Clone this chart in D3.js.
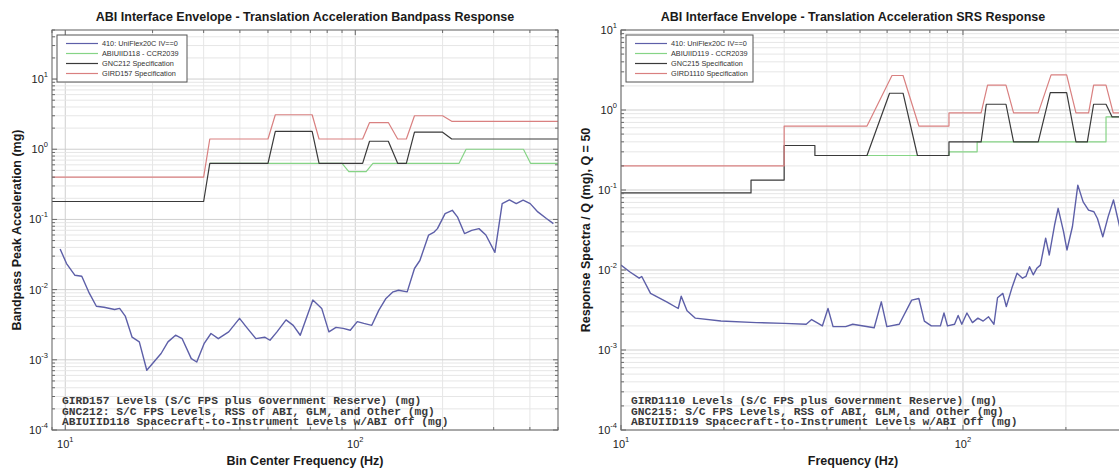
<!DOCTYPE html>
<html>
<head>
<meta charset="utf-8">
<script src="https://cdn.jsdelivr.net/npm/d3@7"></script>
<style>
  body { margin: 0; background: #fff; }
  svg { display: block; font-family: "Liberation Sans", Arial, sans-serif; }
</style>
</head>
<body>
<svg id="chart" width="1119" height="468"></svg>
<script>
// ---- left panel: bandpass response ----
var bpMeasFreq = [9.6, 10.1, 10.8, 11.4, 12.1, 12.8, 13.6, 14.8, 15.4, 16.1, 17.0, 18.0, 19.1, 20.2,
    21.4, 22.6, 24.0, 25.3, 27.2, 28.4, 30.1, 31.8, 33.7, 36.6, 39.9, 42.2, 45.4, 48.7, 50.8, 53.7,
    57.7, 61.1, 64.6, 71.4, 76.6, 81.1, 85.8, 90.8, 96.1, 101.6, 107, 114, 120.6, 127.6, 135, 141,
    151, 160, 167, 179, 187, 192, 204, 216, 225, 238, 252, 267, 282, 303, 321, 340, 359, 379, 401,
    426, 456, 482];
var bpMeasVal = [0.038, 0.0235, 0.016, 0.0155, 0.0089, 0.0058, 0.0056, 0.0052, 0.0054, 0.0042, 0.0021,
    0.0018, 0.00071, 0.00093, 0.00123, 0.0018, 0.00224, 0.002, 0.00104, 0.00093, 0.0017, 0.00237,
    0.002, 0.0025, 0.0039, 0.0029, 0.002, 0.0021, 0.0019, 0.0025, 0.0037, 0.0031, 0.00224, 0.0071,
    0.0054, 0.0025, 0.0029, 0.0028, 0.00264, 0.0035, 0.0033, 0.0031, 0.0051, 0.0075, 0.0093, 0.0098,
    0.0093, 0.02, 0.026, 0.06, 0.066, 0.074, 0.121, 0.135, 0.109, 0.063, 0.07, 0.074, 0.06, 0.034,
    0.168, 0.19, 0.168, 0.188, 0.168, 0.128, 0.103, 0.087];

var bpSpecFreq = [9, 30, 31.5, 50, 53, 71, 75, 106, 112, 130, 140, 150, 160, 200, 215, 500];
var bpGirdVal  = [0.4, 0.4, 1.4, 1.4, 3.1, 3.1, 1.4, 1.4, 2.4, 2.4, 1.4, 1.4, 3.0, 3.0, 2.5, 2.5];
var bpGncVal   = [0.18, 0.18, 0.63, 0.63, 1.8, 1.8, 0.63, 0.63, 1.3, 1.3, 0.63, 0.63, 1.75, 1.75, 1.4, 1.4];

var bpAbiFreq = [31.5, 90, 95, 109, 115, 228, 241, 380, 402, 500];
var bpAbiVal  = [0.63, 0.63, 0.48, 0.48, 0.63, 0.63, 1.0, 1.0, 0.63, 0.63];

var bpLegend = ["410: UniFlex20C IV==0", "ABIUIID118 - CCR2039", "GNC212 Specification", "GIRD157 Specification"];
var bpNotes = ["GIRD157 Levels (S/C FPS plus Government Reserve) (mg)",
    "GNC212: S/C FPS Levels, RSS of ABI, GLM, and Other (mg)",
    "ABIUIID118 Spacecraft-to-Instrument Levels w/ABI Off (mg)"];

// ---- right panel: SRS response ----
var srsMeasFreq = [10.0, 10.6, 11.3, 11.5, 12.2, 13.6, 14.7, 15.0, 15.6, 16.5, 19.6, 24.9, 30, 34.8,
    36.1, 37.4, 38.8, 40.3, 41.7, 45.4, 47.6, 55.0, 57.7, 59.9, 65.1, 70.8, 74.3, 77.1, 80.8, 85.9,
    88.0, 90.1, 94.5, 96.8, 99.2, 102.7, 106.6, 110.6, 114.6, 118.8, 123.2, 126.2, 130.8, 133.9,
    138.9, 143.9, 149.3, 152.8, 156.6, 160.5, 164.4, 168.4, 174.5, 178.8, 185.3, 189.8, 196.9,
    201.4, 209, 216.7, 224.6, 232.9, 241.5, 247.3, 256.4, 265.8, 275.5, 285.8, 295];
var srsMeasVal = [0.0115, 0.0095, 0.0079, 0.0083, 0.0051, 0.004, 0.0033, 0.0047, 0.0031, 0.0025, 0.0023,
    0.0022, 0.00215, 0.0021, 0.0024, 0.0022, 0.002, 0.0033, 0.00196, 0.00196, 0.0021, 0.0019, 0.004,
    0.00196, 0.0021, 0.0042, 0.0044, 0.0023, 0.002, 0.002, 0.0029, 0.002, 0.0021, 0.0027, 0.0021,
    0.0029, 0.0022, 0.0025, 0.0023, 0.0026, 0.0021, 0.0045, 0.0051, 0.0035, 0.0059, 0.0091, 0.0079,
    0.0083, 0.011, 0.0087, 0.0105, 0.0115, 0.025, 0.0154, 0.0365, 0.059, 0.03, 0.0178, 0.035, 0.115,
    0.071, 0.056, 0.0535, 0.044, 0.026, 0.0465, 0.075, 0.038, 0.02];

var srsGirdFreq = [10, 30, 30, 52.4, 62, 66.8, 74.3, 91, 91, 113, 118, 133.6, 140.6, 166, 181, 201,
    214, 233, 241, 262, 275, 500];
var srsGirdVal  = [0.2, 0.2, 0.63, 0.63, 2.7, 2.7, 0.63, 0.63, 0.92, 0.92, 2.05, 2.05, 0.92, 0.92, 2.75,
    2.75, 0.92, 0.92, 2.05, 2.05, 0.92, 0.92];

var srsGncFreq = [10, 24, 24, 30, 30, 36.9, 36.9, 52.4, 61, 66.8, 73.6, 91, 91, 113, 117, 133.6,
    140.6, 166, 180, 201, 214, 231, 241, 262, 273, 500];
var srsGncVal  = [0.092, 0.092, 0.133, 0.133, 0.36, 0.36, 0.27, 0.27, 1.62, 1.62, 0.27, 0.27, 0.4,
    0.4, 1.18, 1.18, 0.4, 0.4, 1.65, 1.65, 0.4, 0.4, 1.18, 1.18, 0.82, 0.82];

var srsAbiFreq = [36.9, 91, 91, 110, 110, 262, 262, 500];
var srsAbiVal  = [0.27, 0.27, 0.3, 0.3, 0.4, 0.4, 0.82, 0.82];

var srsLegend = ["410: UniFlex20C IV==0", "ABIUIID119 - CCR2039", "GNC215 Specification", "GIRD1110 Specification"];
var srsNotes = ["GIRD1110 Levels (S/C FPS plus Government Reserve) (mg)",
    "GNC215: S/C FPS Levels, RSS of ABI, GLM, and Other (mg)",
    "ABIUIID119 Spacecraft-to-Instrument Levels w/ABI Off (mg)"];

// colours: measured, ABI, GNC, GIRD
var colors = ["#5d5fa8", "#86d486", "#3a3a3a", "#d98080"];

var svg = d3.select("#chart");

function logSteps(domain) {
    var out = [];
    for (var e = -6; e <= 4; e++) {
        for (var m = 1; m <= 9; m++) {
            var v = m * Math.pow(10, e);
            if (v >= domain[0] * 0.9999 && v <= domain[1] * 1.0001) out.push(v);
        }
    }
    return out;
}
function isDecade(v) {
    var l = Math.log10(v);
    return Math.abs(l - Math.round(l)) < 1e-6;
}
function powLabel(sel, v) {
    var e = Math.round(Math.log10(v));
    sel.append("tspan").text("10");
    sel.append("tspan").attr("dy", -6).attr("font-size", "7.5px").text(e);
}

function drawPanel(p) {
    var x = d3.scaleLog().domain(p.xDomain).range(p.xRange);
    var y = d3.scaleLog().domain(p.yDomain).range([430, 30]);
    var left = p.xRange[0], right = p.xRange[1], top = 30, bottom = 430;
    var g = svg.append("g");

    g.append("clipPath").attr("id", p.id + "clip")
        .append("rect").attr("x", left).attr("y", top)
        .attr("width", right - left).attr("height", bottom - top);

    var xs = logSteps(p.xDomain), ys = logSteps(p.yDomain);

    // grid
    g.selectAll(".gx").data(xs).enter().append("line")
        .attr("x1", d => x(d)).attr("x2", d => x(d))
        .attr("y1", top).attr("y2", bottom)
        .attr("stroke", d => isDecade(d) ? "#cfcfcf" : "#e6e6e6")
        .attr("stroke-width", 1);
    g.selectAll(".gy").data(ys).enter().append("line")
        .attr("x1", left).attr("x2", right)
        .attr("y1", d => y(d)).attr("y2", d => y(d))
        .attr("stroke", d => isDecade(d) ? "#cfcfcf" : "#e6e6e6")
        .attr("stroke-width", 1);

    // notes at bottom of the axes
    g.selectAll(".note").data(p.notes).enter().append("text")
        .attr("x", p.noteX)
        .attr("y", (d, i) => 404 + i * 10.5)
        .attr("font-family", "'Liberation Mono', 'Courier New', monospace")
        .attr("font-weight", "bold")
        .attr("font-size", "11.3px")
        .attr("fill", "#3a3a3a")
        .text(d => d);

    // series
    var line = d3.line().x(d => x(d[0])).y(d => y(d[1]));
    var lines = g.append("g").attr("clip-path", "url(#" + p.id + "clip)");
    p.series.forEach(function (s, i) {
        lines.append("path")
            .datum(d3.zip(s.f, s.v))
            .attr("fill", "none")
            .attr("stroke", colors[i])
            .attr("stroke-width", i == 0 ? 1.4 : 1.2)
            .attr("stroke-linejoin", "round")
            .attr("d", line);
    });

    // box
    g.append("rect").attr("x", left).attr("y", top)
        .attr("width", right - left).attr("height", bottom - top)
        .attr("fill", "none").attr("stroke", "#6a6a6a").attr("stroke-width", 1);

    // ticks on all sides
    var tk = g.append("g").attr("stroke", "#6a6a6a").attr("stroke-width", 1);
    xs.forEach(function (v) {
        var L = isDecade(v) ? 5 : 3;
        tk.append("line").attr("x1", x(v)).attr("x2", x(v)).attr("y1", bottom).attr("y2", bottom - L);
        tk.append("line").attr("x1", x(v)).attr("x2", x(v)).attr("y1", top).attr("y2", top + L);
    });
    ys.forEach(function (v) {
        var L = isDecade(v) ? 5 : 3;
        tk.append("line").attr("x1", left).attr("x2", left + L).attr("y1", y(v)).attr("y2", y(v));
        tk.append("line").attr("x1", right).attr("x2", right - L).attr("y1", y(v)).attr("y2", y(v));
    });

    // tick labels
    xs.filter(isDecade).forEach(function (v) {
        var t = g.append("text").attr("x", x(v)).attr("y", 448)
            .attr("text-anchor", "middle").attr("font-size", "11px").attr("fill", "#222");
        powLabel(t, v);
    });
    ys.filter(isDecade).forEach(function (v) {
        var t = g.append("text").attr("x", left - 4).attr("y", y(v) + 4)
            .attr("text-anchor", "end").attr("font-size", "11px").attr("fill", "#222");
        powLabel(t, v);
    });

    // legend
    var lg = g.append("g");
    lg.append("rect").attr("x", p.legend[0]).attr("y", 35)
        .attr("width", p.legend[1]).attr("height", 47)
        .attr("fill", "#fff").attr("stroke", "#555").attr("stroke-width", 1);
    p.legendLabels.forEach(function (lab, i) {
        var ly = 43.5 + i * 10;
        lg.append("line").attr("x1", p.legend[0] + 9).attr("x2", p.legend[0] + 41)
            .attr("y1", ly).attr("y2", ly)
            .attr("stroke", colors[i]).attr("stroke-width", 1.2);
        lg.append("text").attr("x", p.legend[0] + 45).attr("y", ly + 2.5)
            .attr("font-size", "7.3px").attr("fill", "#333").text(lab);
    });

    // titles
    g.append("text").attr("x", p.titleX).attr("y", 21)
        .attr("text-anchor", "middle").attr("font-weight", "bold")
        .attr("font-size", "12.5px").attr("fill", "#1a1a1a").text(p.title);
    g.append("text").attr("x", p.titleX).attr("y", 465)
        .attr("text-anchor", "middle").attr("font-weight", "bold")
        .attr("font-size", "12.5px").attr("fill", "#1a1a1a").text(p.xLabel);
    g.append("text")
        .attr("transform", "translate(" + p.yLabelX + ",230) rotate(-90)")
        .attr("text-anchor", "middle").attr("font-weight", "bold")
        .attr("font-size", "12.5px").attr("fill", "#1a1a1a").text(p.yLabel);
}

drawPanel({
    id: "bp",
    xDomain: [9, 500], xRange: [52, 558],
    yDomain: [1e-4, 50],
    title: "ABI Interface Envelope - Translation Acceleration Bandpass Response",
    xLabel: "Bin Center Frequency (Hz)",
    yLabel: "Bandpass Peak Acceleration (mg)",
    titleX: 305, yLabelX: 21,
    legend: [57, 130], legendLabels: bpLegend,
    notes: bpNotes, noteX: 62,
    series: [
        { f: bpMeasFreq, v: bpMeasVal },
        { f: bpAbiFreq, v: bpAbiVal },
        { f: bpSpecFreq, v: bpGncVal },
        { f: bpSpecFreq, v: bpGirdVal }
    ]
});

drawPanel({
    id: "srs",
    xDomain: [10, 500], xRange: [621, 1202],
    yDomain: [1e-4, 10],
    title: "ABI Interface Envelope - Translation Acceleration SRS Response",
    xLabel: "Frequency (Hz)",
    yLabel: "Response Spectra / Q (mg), Q = 50",
    titleX: 853, yLabelX: 590,
    legend: [626, 127], legendLabels: srsLegend,
    notes: srsNotes, noteX: 631,
    series: [
        { f: srsMeasFreq, v: srsMeasVal },
        { f: srsAbiFreq, v: srsAbiVal },
        { f: srsGncFreq, v: srsGncVal },
        { f: srsGirdFreq, v: srsGirdVal }
    ]
});
</script>
</body>
</html>
